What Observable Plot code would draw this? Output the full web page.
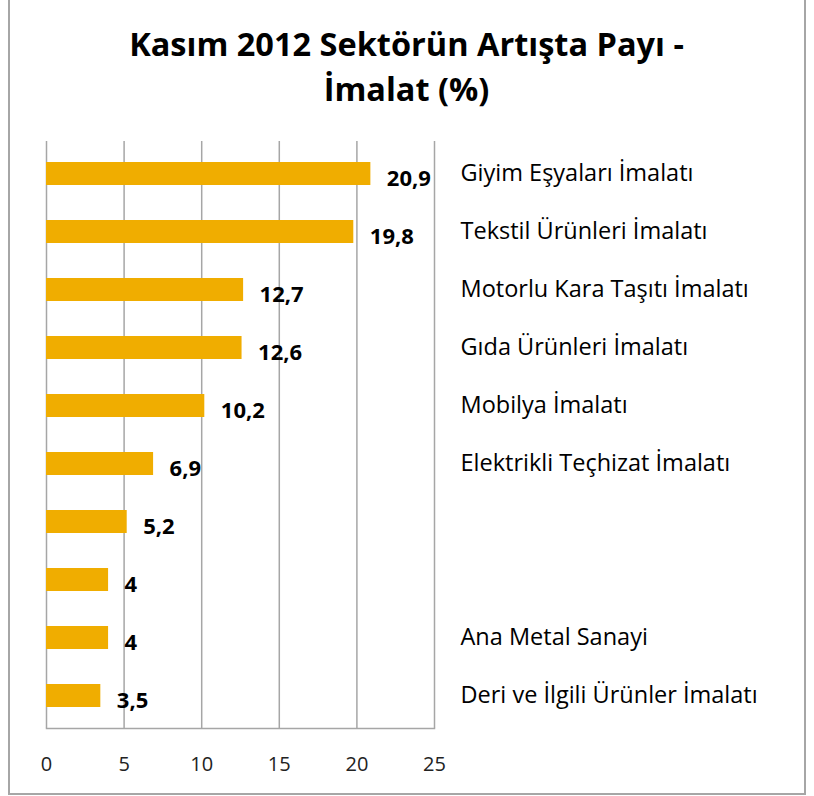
<!DOCTYPE html>
<html>
<head>
<meta charset="utf-8">
<script src="https://cdn.jsdelivr.net/npm/d3@7"></script>
<script src="https://cdn.jsdelivr.net/npm/@observablehq/plot@0.6"></script>
<style>
  html, body { margin: 0; padding: 0; background: #fff; }
  #wrap { position: relative; width: 814px; height: 796px; overflow: hidden; font-family: "Open Sans", sans-serif; }
  #border { position: absolute; left: 8px; top: -2px; width: 798px; height: 797px; border: 2px solid #a6a6a6; box-sizing: border-box; }
  #title { position: absolute; left: 8px; width: 797px; top: 21px; text-align: center; font-weight: bold; font-size: 32.5px; line-height: 45px; color: #000; }
  #chart { position: absolute; left: 0; top: 120px; }
</style>
</head>
<body>
<div id="wrap">
  <div id="border"></div>
  <div id="title">Kasım 2012 Sektörün Artışta Payı -<br>İmalat (%)</div>
  <div id="chart"></div>
</div>
<script>
const categories = [
  "Giyim Eşyaları İmalatı",
  "Tekstil Ürünleri İmalatı",
  "Motorlu Kara Taşıtı İmalatı",
  "Gıda Ürünleri İmalatı",
  "Mobilya İmalatı",
  "Elektrikli Teçhizat İmalatı",
  "",
  "",
  "Ana Metal Sanayi",
  "Deri ve İlgili Ürünler İmalatı"
];
const values = [20.9, 19.8, 12.7, 12.6, 10.2, 6.9, 5.2, 4, 4, 3.5];
const xTicks = [0, 5, 10, 15, 20, 25];

const data = values.map((v, i) => ({i, value: v, label: categories[i]}));
const fmt = v => String(v).replace(".", ",");

const chart = Plot.plot({
  width: 814,
  height: 676,
  marginLeft: 46,
  marginRight: 380,
  marginTop: 21,
  marginBottom: 68,
  style: {fontFamily: "Open Sans, sans-serif", background: "transparent", overflow: "visible"},
  x: {domain: [0, 25], ticks: xTicks, label: null},
  y: {domain: d3.range(values.length), paddingInner: 0.6, paddingOuter: 0.3, axis: null},
  marks: [
    Plot.ruleX(xTicks, {stroke: "#a6a6a6", strokeWidth: 1.5, strokeOpacity: 1}),
    Plot.frame({anchor: "bottom", stroke: "#a6a6a6", strokeWidth: 1.5}),
    Plot.barX(data, {y: "i", x: "value", fill: "#F0AD00"}),
    Plot.text(data, {y: "i", x: "value", text: d => fmt(d.value), textAnchor: "start", dx: 16, dy: 5, fontWeight: "bold", fontSize: 22, fill: "#000"}),
    Plot.text(data, {y: "i", text: "label", frameAnchor: "right", textAnchor: "start", dx: 26, dy: -1, fontSize: 23.5, fill: "#000"}),
    Plot.axisX({ticks: xTicks, tickSize: 0, tickPadding: 28, fontSize: 20, color: "#222", label: null, tickFormat: d => String(d)})
  ]
});
document.getElementById("chart").appendChild(chart);
</script>
</body>
</html>
